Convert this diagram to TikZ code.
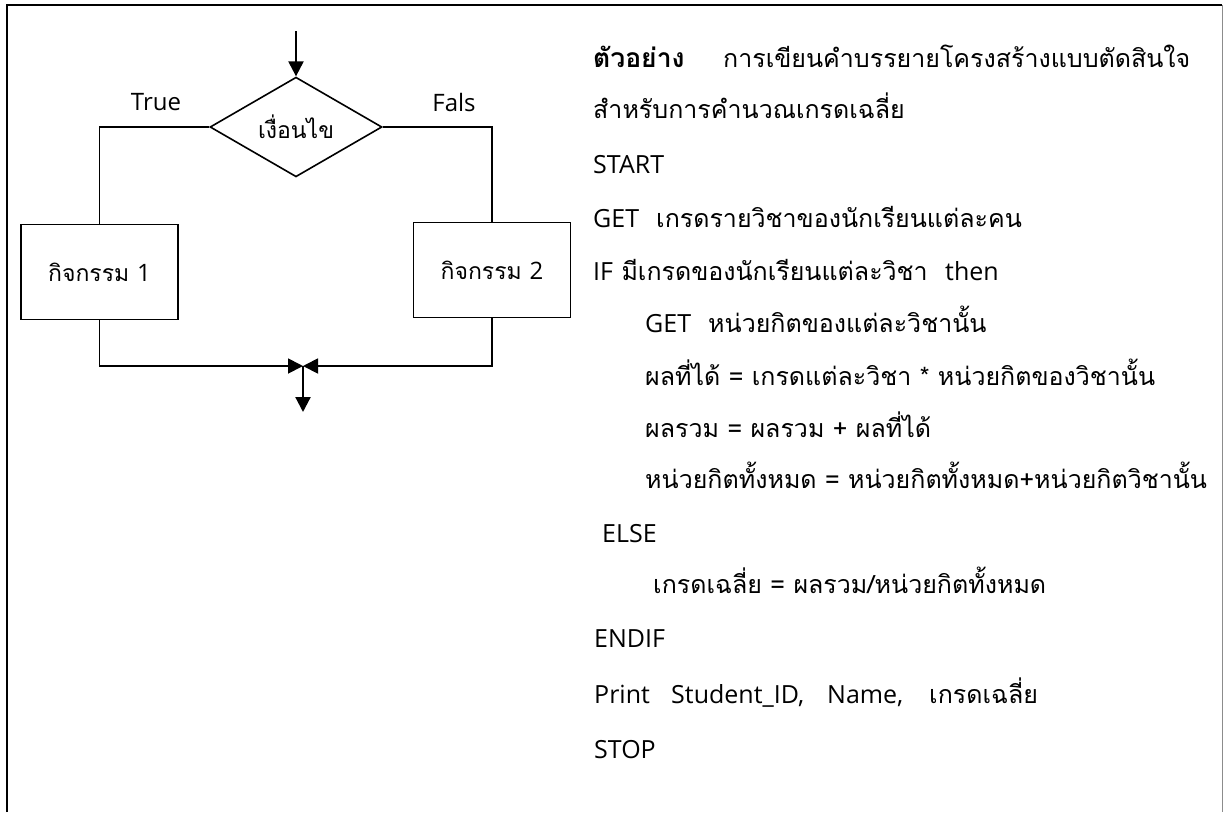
\documentclass[tikz,border=0pt]{standalone}
\usepackage{fontspec}
\setmainfont[Script=Thai]{Loma}
\newfontfamily\lat{Open Sans}
\usetikzlibrary{shapes.geometric,arrows.meta}
\newcommand\la[1]{{\lat\fontsize{25}{30}\selectfont #1}}
\newcommand\lf[1]{{\lat\fontsize{24}{28}\selectfont #1}}
\tikzset{
  txt/.style={anchor=base west, inner sep=0pt, font=\fontsize{25}{30}\selectfont},
  flow/.style={line width=1.6pt, draw=black},
  arr/.style={line width=2.2pt, -{Triangle[length=15pt,width=15pt]}},
  boxx/.style={draw, line width=1.6pt, minimum width=157pt, minimum height=95pt, inner sep=0pt, font=\fontsize{23}{28}\selectfont},
  dia/.style={draw, diamond, line width=1.6pt, minimum width=172pt, minimum height=95pt, inner sep=0pt, font=\fontsize{23}{28}\selectfont},
  lbl/.style={inner sep=0pt}
}
\begin{document}
\begin{tikzpicture}[x=1pt,y=-1pt]
\useasboundingbox (0,0) rectangle (1223,812);
% frame
\draw[line width=1.8pt] (7,812) -- (7,5) -- (1222,5);
\draw[line width=0.6pt, black!45] (1222,5) -- (1222,812);
% flowchart
\node[dia] (cond) at (296,127) {เงื่อนไข};
\node[boxx] (act1) at (99.5,272) {กิจกรรม \lf{1}};
\node[boxx] (act2) at (492,270) {กิจกรรม \lf{2}};
\coordinate (start) at (296,31);
\coordinate (merge) at (303,366);
\coordinate (out) at (303,412);
\draw[arr] (start) -- (cond.north);
\draw[flow] (cond.west) -| (act1.north);
\draw[flow] (cond.east) -| (act2.north);
\draw[flow, arr, line width=1.8pt] (act1.south) |- (merge);
\draw[flow, arr, line width=1.8pt] (act2.south) |- (merge);
\draw[arr] (merge) -- (out);
\node[lbl] (ltrue) at (156,102) {\lf{True}};
\node[lbl] (lfals) at (454,102) {\lf{Fals}};
% text
\node[txt, font=\fontsize{26.5}{30}\selectfont\bfseries] (t1a) at (593,67) {ตัวอย่าง};
\node[txt] (t1b) at (723,67) {การเขียนคำบรรยายโครงสร้างแบบตัดสินใจ};
\node[txt] (t2) at (593,118) {สำหรับการคำนวณเกรดเฉลี่ย};
\node[txt] (t3) at (593,173) {\la{START}};
\node[txt] (t4a) at (593,227) {\la{GET}};
\node[txt] (t4b) at (656,227) {เกรดรายวิชาของนักเรียนแต่ละคน};
\node[txt] (t5a) at (593,280) {\la{IF} มีเกรดของนักเรียนแต่ละวิชา};
\node[txt] (t5b) at (945,280) {\la{then}};
\node[txt] (t6a) at (645,332) {\la{GET}};
\node[txt] (t6b) at (708,332) {หน่วยกิตของแต่ละวิชานั้น};
\node[txt] (t7) at (645,385) {ผลที่ได้ = เกรดแต่ละวิชา * หน่วยกิตของวิชานั้น};
\node[txt] (t8) at (645,437) {ผลรวม = ผลรวม + ผลที่ได้};
\node[txt] (t9) at (645,488) {หน่วยกิตทั้งหมด = หน่วยกิตทั้งหมด+หน่วยกิตวิชานั้น};
\node[txt] (t10) at (602,542) {\la{ELSE}};
\node[txt] (t11) at (653,593) {เกรดเฉลี่ย = ผลรวม/หน่วยกิตทั้งหมด};
\node[txt] (t12) at (594,647) {\la{ENDIF}};
\node[txt] (t13a) at (594,703) {\la{Print}};
\node[txt] (t13b) at (671,703) {\la{Student\_ID,}};
\node[txt] (t13c) at (827,703) {\la{Name,}};
\node[txt] (t13d) at (929,703) {เกรดเฉลี่ย};
\node[txt] (t14) at (594,758) {\la{STOP}};
\end{tikzpicture}
\end{document}
